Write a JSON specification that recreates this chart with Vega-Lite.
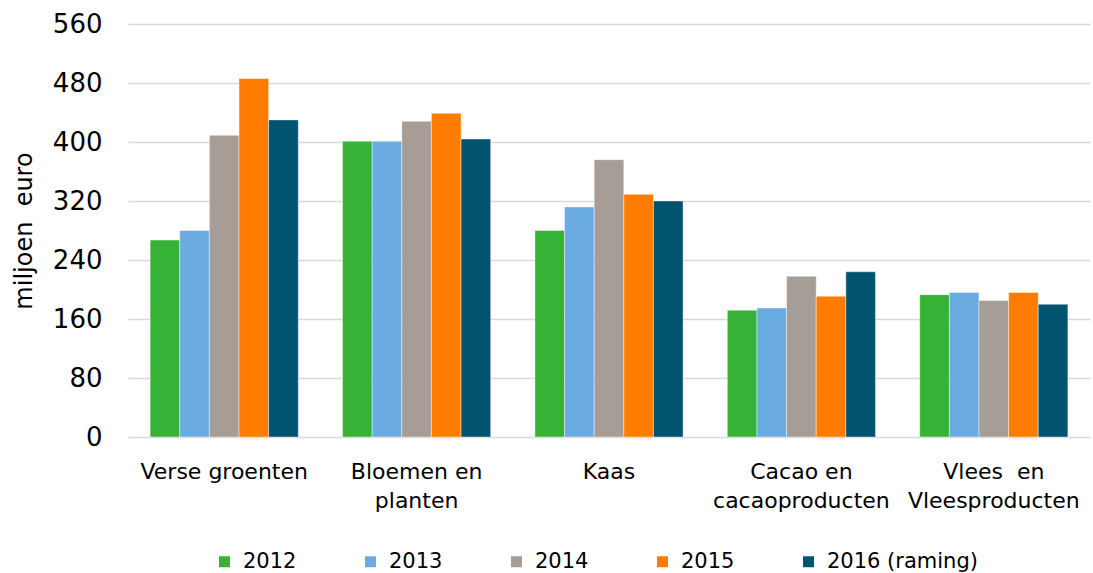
{
  "$schema": "https://vega.github.io/schema/vega-lite/v6.json",
  "width": 962,
  "height": 413,
  "autosize": {"type": "none"},
  "padding": {"left": 128, "top": 24, "right": 3, "bottom": 136},
  "background": "white",
  "config": {
    "font": "DejaVu Sans",
    "view": {"stroke": null}
  },
  "data": {
    "values": [
      {"categorie": "Verse groenten", "jaar": "2012", "waarde": 267},
      {"categorie": "Verse groenten", "jaar": "2013", "waarde": 280},
      {"categorie": "Verse groenten", "jaar": "2014", "waarde": 409},
      {"categorie": "Verse groenten", "jaar": "2015", "waarde": 486},
      {"categorie": "Verse groenten", "jaar": "2016 (raming)", "waarde": 430},
      {"categorie": "Bloemen en planten", "jaar": "2012", "waarde": 401},
      {"categorie": "Bloemen en planten", "jaar": "2013", "waarde": 401},
      {"categorie": "Bloemen en planten", "jaar": "2014", "waarde": 428},
      {"categorie": "Bloemen en planten", "jaar": "2015", "waarde": 439},
      {"categorie": "Bloemen en planten", "jaar": "2016 (raming)", "waarde": 404},
      {"categorie": "Kaas", "jaar": "2012", "waarde": 280},
      {"categorie": "Kaas", "jaar": "2013", "waarde": 312},
      {"categorie": "Kaas", "jaar": "2014", "waarde": 376},
      {"categorie": "Kaas", "jaar": "2015", "waarde": 329},
      {"categorie": "Kaas", "jaar": "2016 (raming)", "waarde": 320},
      {"categorie": "Cacao en cacaoproducten", "jaar": "2012", "waarde": 172},
      {"categorie": "Cacao en cacaoproducten", "jaar": "2013", "waarde": 175},
      {"categorie": "Cacao en cacaoproducten", "jaar": "2014", "waarde": 218},
      {"categorie": "Cacao en cacaoproducten", "jaar": "2015", "waarde": 191},
      {"categorie": "Cacao en cacaoproducten", "jaar": "2016 (raming)", "waarde": 224},
      {"categorie": "Vlees en Vleesproducten", "jaar": "2012", "waarde": 193},
      {"categorie": "Vlees en Vleesproducten", "jaar": "2013", "waarde": 196},
      {"categorie": "Vlees en Vleesproducten", "jaar": "2014", "waarde": 185},
      {"categorie": "Vlees en Vleesproducten", "jaar": "2015", "waarde": 196},
      {"categorie": "Vlees en Vleesproducten", "jaar": "2016 (raming)", "waarde": 180}
    ]
  },
  "mark": {"type": "bar", "stroke": "#ffffff", "strokeWidth": 0.6, "strokeOpacity": 0.7},
  "encoding": {
    "x": {
      "field": "categorie",
      "type": "nominal",
      "sort": ["Verse groenten", "Bloemen en planten", "Kaas", "Cacao en cacaoproducten", "Vlees en Vleesproducten"],
      "scale": {"paddingInner": 0.23, "paddingOuter": 0.115},
      "axis": {
        "title": null,
        "labelAngle": 0,
        "labelFontSize": 22,
        "labelColor": "#000000",
        "labelLineHeight": 29,
        "labelPadding": 24,
        "labelLimit": 300,
        "ticks": false,
        "domain": false,
        "labelExpr": "datum.label == 'Bloemen en planten' ? ['Bloemen en', 'planten'] : datum.label == 'Cacao en cacaoproducten' ? ['Cacao en', 'cacaoproducten'] : datum.label == 'Vlees en Vleesproducten' ? ['Vlees\u00a0\u00a0en', 'Vleesproducten'] : datum.label"
      }
    },
    "xOffset": {
      "field": "jaar",
      "type": "nominal",
      "sort": ["2012", "2013", "2014", "2015", "2016 (raming)"],
      "scale": {"paddingInner": 0, "paddingOuter": 0}
    },
    "y": {
      "field": "waarde",
      "type": "quantitative",
      "scale": {"domain": [0, 560], "nice": false},
      "axis": {
        "title": "miljoen\u00a0\u00a0euro",
        "titleFontSize": 24,
        "titleFontWeight": "normal",
        "titleColor": "#000000",
        "titlePadding": 16,
        "values": [0, 80, 160, 240, 320, 400, 480, 560],
        "labelFontSize": 26,
        "labelColor": "#000000",
        "labelPadding": 26,
        "ticks": false,
        "domain": false,
        "gridColor": "#d9d9d9",
        "gridWidth": 1.5
      }
    },
    "color": {
      "field": "jaar",
      "type": "nominal",
      "sort": ["2012", "2013", "2014", "2015", "2016 (raming)"],
      "scale": {
        "domain": ["2012", "2013", "2014", "2015", "2016 (raming)"],
        "range": ["#36b336", "#6aace2", "#a59d96", "#ff7c00", "#005470"]
      },
      "legend": {
        "title": null,
        "orient": "none",
        "direction": "horizontal",
        "legendX": 86,
        "legendY": 527,
        "symbolType": "square",
        "symbolSize": 121,
        "symbolStrokeWidth": 0,
        "labelFontSize": 21,
        "labelColor": "#000000",
        "labelOffset": 8,
        "columnPadding": 63,
        "labelLimit": 300
      }
    }
  }
}
